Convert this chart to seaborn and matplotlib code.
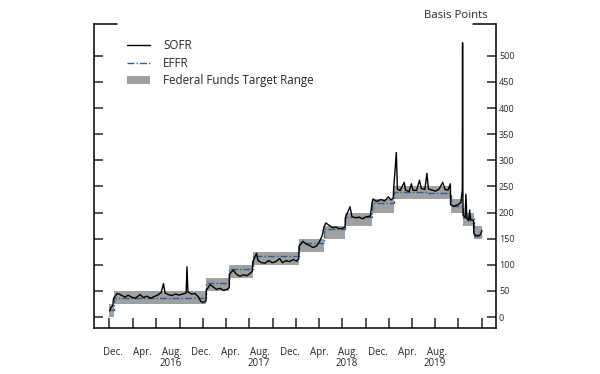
import matplotlib
matplotlib.use("Agg")
import matplotlib.pyplot as plt
import matplotlib.transforms as mtransforms
from matplotlib.patches import Patch
from matplotlib.lines import Line2D
import seaborn as sns
import numpy as np
import pandas as pd

# SOFR, basis points
sofr_dates = [
    "2015-12-01", "2015-12-07", "2015-12-14", "2015-12-17", "2015-12-24", "2015-12-31",
    "2016-01-08", "2016-01-19", "2016-02-01", "2016-02-12", "2016-02-26", "2016-03-11",
    "2016-03-31", "2016-04-12", "2016-04-26", "2016-05-10", "2016-05-24", "2016-06-07",
    "2016-06-21", "2016-06-30", "2016-07-06", "2016-07-19", "2016-08-02", "2016-08-16",
    "2016-08-30", "2016-09-13", "2016-09-27", "2016-09-30", "2016-10-04", "2016-10-18",
    "2016-11-01", "2016-11-15", "2016-11-23", "2016-12-01", "2016-12-09", "2016-12-14",
    "2016-12-15", "2016-12-22", "2016-12-30", "2017-01-10", "2017-01-24", "2017-02-07",
    "2017-02-21", "2017-03-06", "2017-03-15", "2017-03-16", "2017-03-31", "2017-04-12",
    "2017-04-26", "2017-05-10", "2017-05-24", "2017-06-08", "2017-06-14", "2017-06-15",
    "2017-06-30", "2017-07-06", "2017-07-20", "2017-08-03", "2017-08-17", "2017-08-31",
    "2017-09-14", "2017-09-29", "2017-10-10", "2017-10-24", "2017-11-07", "2017-11-21",
    "2017-12-05", "2017-12-13", "2017-12-14", "2017-12-29", "2018-01-10", "2018-01-24",
    "2018-02-07", "2018-02-21", "2018-03-05", "2018-03-15", "2018-03-22", "2018-03-29",
    "2018-04-10", "2018-04-24", "2018-05-08", "2018-05-22", "2018-06-05", "2018-06-13",
    "2018-06-14", "2018-07-02", "2018-07-10", "2018-07-24", "2018-08-07", "2018-08-21",
    "2018-09-04", "2018-09-20", "2018-09-27", "2018-10-01", "2018-10-15", "2018-10-31",
    "2018-11-15", "2018-11-30", "2018-12-10", "2018-12-19", "2018-12-20", "2018-12-31",
    "2019-01-04", "2019-01-15", "2019-01-31", "2019-02-05", "2019-02-19", "2019-02-28",
    "2019-03-06", "2019-03-20", "2019-04-01", "2019-04-08", "2019-04-22", "2019-04-30",
    "2019-05-06", "2019-05-20", "2019-06-03", "2019-06-17", "2019-07-01", "2019-07-10",
    "2019-07-22", "2019-07-31", "2019-08-01", "2019-08-14", "2019-08-30", "2019-09-10",
    "2019-09-16", "2019-09-17", "2019-09-18", "2019-09-19", "2019-09-27", "2019-09-30",
    "2019-10-04", "2019-10-11", "2019-10-15", "2019-10-18", "2019-10-30", "2019-10-31",
    "2019-11-08", "2019-11-20", "2019-11-27", "2019-12-02",
]
sofr_bp = [
    12, 18, 22, 36, 40, 45,
    44, 41, 38, 42, 38, 36,
    43, 37, 40, 36, 39, 42,
    47, 64, 46, 43, 41, 44,
    42, 44, 46, 96, 48, 44,
    45, 38, 30, 28, 29, 31,
    52, 56, 62, 58, 53, 55,
    51, 53, 56, 82, 90, 82,
    78, 81, 79, 85, 88, 105,
    122, 108, 104, 103, 108, 104,
    106, 112, 104, 108, 106, 110,
    107, 112, 135, 145, 140, 137,
    133, 136, 145, 156, 172, 180,
    176, 171, 172, 169, 170, 173,
    190, 211, 192, 190, 191, 188,
    192, 193, 220, 226, 221, 225,
    222, 230, 224, 228, 242, 315,
    245, 242, 258, 243, 240, 255,
    243, 242, 262, 246, 244, 275,
    245, 243, 241, 245, 258, 244,
    243, 255, 215, 212, 215, 219,
    243, 525, 255, 195, 190, 235,
    189, 184, 205, 186, 185, 160,
    156, 156, 158, 166,
]

# EFFR, basis points
effr_dates = ["2015-12-01", "2015-12-17", "2016-12-15", "2017-03-16", "2017-06-15",
              "2017-12-14", "2018-03-22", "2018-06-14", "2018-09-27", "2018-12-20",
              "2019-05-02", "2019-08-01", "2019-09-19", "2019-10-31", "2019-12-02"]
effr_bp = [13, 36, 66, 91, 116, 142, 169, 191, 219, 240, 238, 213, 190, 155, 155]

# Federal funds target range
range_dates = ["2015-12-01", "2015-12-17", "2016-12-15", "2017-03-16", "2017-06-15",
               "2017-12-14", "2018-03-22", "2018-06-14", "2018-09-27", "2018-12-20",
               "2019-08-01", "2019-09-19", "2019-10-31", "2019-12-02"]
range_low = [0, 25, 50, 75, 100, 125, 150, 175, 200, 225, 200, 175, 150, 150]
range_high = [25, 50, 75, 100, 125, 150, 175, 200, 225, 250, 225, 200, 175, 175]

month_labels = ["Dec.", "Apr.", "Aug."] * 4
year_labels = ["2016", "2017", "2018", "2019"]

sofr = pd.DataFrame({"date": pd.to_datetime(sofr_dates), "bp": sofr_bp})
effr = pd.DataFrame({"date": pd.to_datetime(effr_dates), "bp": effr_bp})
rng = pd.DataFrame({"date": pd.to_datetime(range_dates), "low": range_low, "high": range_high})

sns.set_style("white")
plt.rcParams["font.family"] = ["Open Sans", "DejaVu Sans"]

fig = plt.figure(figsize=(6, 3.74), dpi=100)
ax = fig.add_axes([0.157, 0.123, 0.67, 0.813])

gray = "#a0a0a0"
blue = "#2f5f9a"

ax.fill_between(rng["date"], rng["low"], rng["high"], step="post", color=gray, lw=0)
sns.lineplot(data=effr, x="date", y="bp", ax=ax, color=blue, lw=1.0,
             linestyle=(0, (5, 1.5, 1, 1.5)), drawstyle="steps-post")
sns.lineplot(data=sofr, x="date", y="bp", ax=ax, color="black", lw=1.0)

ax.set_xlim(pd.Timestamp("2015-10-02"), pd.Timestamp("2020-01-27"))
ax.set_ylim(-21, 561)
ax.set_xlabel("")
ax.set_ylabel("")

# quarterly ticks, no labels
qticks = pd.date_range("2015-12-01", "2019-12-01", freq="3MS")
ax.set_xticks(qticks)
ax.set_xticklabels([])
ax.tick_params(axis="x", direction="in", length=7, width=1.1, bottom=True, top=False)

ax.set_yticks(np.arange(0, 501, 50))
ax.tick_params(axis="y", direction="in", length=6.5, width=1.1, left=True, right=True,
               labelleft=False, labelright=True, labelsize=6.5, pad=2)

for side in ["left", "right", "bottom"]:
    ax.spines[side].set_linewidth(1.1)
    ax.spines[side].set_color("black")
ax.spines["top"].set_visible(False)
ax.plot([0, 0.057], [1, 1], transform=ax.transAxes, color="black", lw=1.1, clip_on=False)
ax.plot([0.943, 1], [1, 1], transform=ax.transAxes, color="black", lw=1.1, clip_on=False)

# month and year labels under the axis
trans = mtransforms.blended_transform_factory(ax.transData, ax.transAxes)
label_x = pd.Timestamp("2015-12-15") + pd.to_timedelta(np.arange(12) * 115.5, unit="D")
for i, (x, lab) in enumerate(zip(label_x, month_labels)):
    ax.text(x, -0.079, lab, transform=trans, ha="center", va="center", fontsize=7)
    if lab == "Aug.":
        ax.text(x - pd.Timedelta(days=6), -0.117, year_labels[i // 3], transform=trans,
                ha="center", va="center", fontsize=7)

ax.text(0.978, 1.028, "Basis Points", transform=ax.transAxes, ha="right", va="center",
        fontsize=8.2)

handles = [Line2D([], [], color="black", lw=1.0),
           Line2D([], [], color=blue, lw=1.0, linestyle=(0, (5, 1.5, 1, 1.5))),
           Patch(facecolor=gray, edgecolor="none")]
ax.legend(handles, ["SOFR", "EFFR", "Federal Funds Target Range"], loc="upper left",
          bbox_to_anchor=(0.07, 0.965), frameon=False, fontsize=8.4, handlelength=2.0,
          handletextpad=1.1, labelspacing=0.38, borderaxespad=0)

fig.savefig("out.png", dpi=100)
